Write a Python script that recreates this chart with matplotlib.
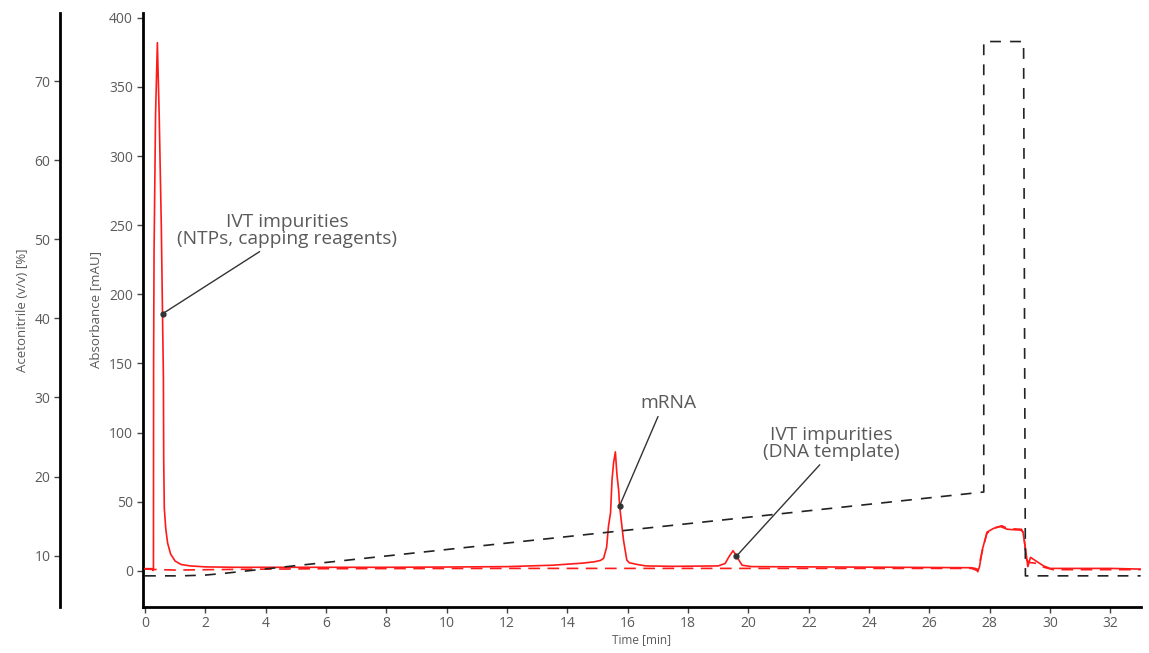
import matplotlib.pyplot as plt

plt.rcParams['font.family'] = ['Open Sans', 'DejaVu Sans']

# sample trace (red solid), time [min] / absorbance [mAU]
sample_t = [0.0, 0.24, 0.26, 0.28, 0.285, 0.30, 0.35, 0.41, 0.47, 0.54, 0.58, 0.61,
            0.62, 0.64, 0.69, 0.75, 0.85, 1.0, 1.2, 1.5, 2.0, 3.0, 5.0, 8.0, 10.0,
            12.0, 13.5, 14.5, 14.9, 15.1, 15.2, 15.3, 15.36, 15.43, 15.48, 15.53,
            15.59, 15.64, 15.70, 15.73, 15.86, 15.97, 16.05, 16.3, 16.6, 17.5, 19.0,
            19.23, 19.35, 19.49, 19.55, 19.62, 19.79, 20.1, 22.0, 25.0, 27.4, 27.55,
            27.6, 27.66, 27.75, 27.91, 28.13, 28.35, 28.58, 29.03, 29.1, 29.22,
            29.26, 29.35, 29.57, 29.79, 30.0, 31.0, 32.0, 33.0]
sample_mau = [1.5, 1.5, 0.2, 0.5, 150, 230, 330, 382, 330, 250, 186, 140,
              80, 45, 30, 20, 12, 7, 4.5, 3.5, 2.8, 2.5, 2.5, 2.5, 2.7,
              3.0, 4.0, 5.5, 6.5, 7.5, 9.0, 17, 32, 42, 66, 78,
              86, 70, 58, 47, 22, 7.7, 5.8, 4.6, 3.5, 3.2, 3.5,
              5.3, 10, 14.5, 12.5, 10, 4.0, 3.0, 2.8, 2.5, 2.2, 1.5,
              -0.7, 3.0, 15, 28, 30.7, 32, 30, 29.4, 28, 10,
              3.0, 9.7, 6.5, 3.4, 1.7, 1.7, 1.7, 1.2]

# blank trace (red dashed)
blank_t = [0.0, 0.5, 1.0, 3.0, 6.0, 12.0, 20.0, 27.4, 27.6, 27.75, 27.9, 28.15,
           28.4, 28.6, 29.05, 29.12, 29.22, 29.3, 29.5, 29.8, 30.1, 33.0]
blank_mau = [1.2, 0.8, 0.5, 1.0, 1.5, 1.7, 1.7, 1.7, 0.0, 14, 27, 31,
             32.5, 30.5, 30, 27, 8, 6, 5.5, 2.5, 0.8, 0.8]

# gradient (black dashed), acetonitrile [%]
grad_t = [0.0, 1.2, 2.0, 2.5, 3.0, 27.8, 27.8, 29.12, 29.18, 33.0]
grad_pct = [7.45, 7.45, 7.55, 7.72, 7.92, 18.05, 75.0, 75.0, 7.45, 7.45]

abs_ticks = [0, 50, 100, 150, 200, 250, 300, 350, 400]
acn_ticks = [10, 20, 30, 40, 50, 60, 70]
time_ticks = list(range(0, 33, 2))

# (label, peak point, text position, relpos of leader line on text)
notes = [
    ("IVT impurities\n(NTPs, capping reagents)", (0.59, 186), (4.71, 246), (0.4, 0.0)),
    ("mRNA", (15.73, 47), (17.34, 121), (0.35, 0.0)),
    ("IVT impurities\n(DNA template)", (19.6, 10.5), (22.75, 92), (0.44, 0.0)),
]

TXT = '#5a5a5a'
RED = '#ff1a1a'

fig = plt.figure(figsize=(11.49, 6.53), dpi=100)
ax = fig.add_axes([0.1242, 0.0709, 0.8688, 0.9091])
ax2 = ax.twinx()

ax.plot(blank_t, blank_mau, color=RED, lw=1.2, linestyle=(0, (7, 4.5)), zorder=3)
ax.plot(sample_t, sample_mau, color=RED, lw=1.2, zorder=4)
ax2.plot(grad_t, grad_pct, color='#222222', lw=1.2, linestyle=(0, (6.5, 5.5)))

ax.set_xlim(-0.076, 33.01)
ax.set_ylim(-26, 403.4)
ax2.set_ylim(3.55, 78.6)

ax.set_xticks(time_ticks)
ax.set_yticks(abs_ticks)
ax2.set_yticks(acn_ticks)

for a in (ax, ax2):
    for s in ('top', 'right'):
        a.spines[s].set_visible(False)
ax2.spines['bottom'].set_visible(False)
ax2.spines['left'].set_visible(True)
ax2.spines['left'].set_position(('outward', 59.5))
ax2.yaxis.set_ticks_position('left')
ax2.yaxis.set_label_position('left')

for sp in (ax.spines['left'], ax.spines['bottom'], ax2.spines['left']):
    sp.set_linewidth(2.0)
    sp.set_color('black')

for a in (ax, ax2):
    a.tick_params(direction='out', length=4, width=1, color='#444444',
                  labelcolor=TXT, labelsize=10, pad=3)

ax.set_xlabel('Time [min]', fontsize=8.5, color=TXT, labelpad=1)
ax.set_ylabel('Absorbance [mAU]', fontsize=9.5, color=TXT, labelpad=5)
ax2.set_ylabel('Acetonitrile (v/v) [%]', fontsize=9.5, color=TXT, labelpad=4)

for label, pt, txt, rp in notes:
    ax.annotate(label, xy=pt, xytext=txt, ha='center', va='center',
                fontsize=13.8, color=TXT, linespacing=0.92,
                arrowprops=dict(arrowstyle='-', color='#333333', lw=1.0,
                                relpos=rp, shrinkA=1, shrinkB=0),
                zorder=6)
    ax.plot([pt[0]], [pt[1]], 'o', color='#333333', ms=3.5, zorder=7)

fig.savefig('out.png', dpi=100)
